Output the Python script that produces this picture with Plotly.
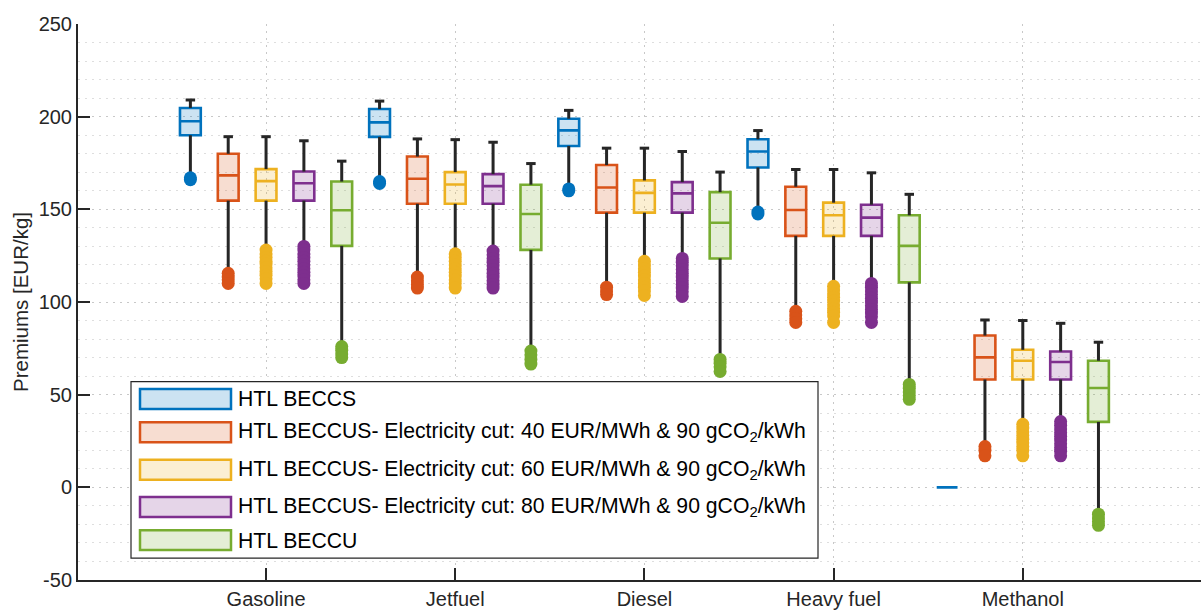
import plotly.graph_objects as go

# ---- data -----------------------------------------------------------------
categories = ["Gasoline", "Jetfuel", "Diesel", "Heavy fuel", "Methanol"]

series_names = [
    "HTL BECCS",
    "HTL BECCUS- Electricity cut: 40 EUR/MWh &amp; 90 gCO<sub>2</sub>/kWh",
    "HTL BECCUS- Electricity cut: 60 EUR/MWh &amp; 90 gCO<sub>2</sub>/kWh",
    "HTL BECCUS- Electricity cut: 80 EUR/MWh &amp; 90 gCO<sub>2</sub>/kWh",
    "HTL BECCU",
]

y_tick_values = [-50, 0, 50, 100, 150, 200, 250]
y_tick_labels = ["-50", "0", "50", "100", "150", "200", "250"]

# HTL BECCS
beccs_upper = [209.0, 208.4, 203.4, 192.5, 0.0]
beccs_q3 = [204.7, 204.1, 198.9, 187.8, 0.0]
beccs_median = [197.5, 196.9, 192.6, 181.2, 0.0]
beccs_q1 = [190.0, 189.1, 184.2, 172.6, 0.0]
beccs_lower = [167.0, 165.0, 161.0, 148.5, 0.0]
beccs_outliers = [[167.0, 166.0], [165.0, 164.0], [161.0, 160.0], [148.5, 147.5], []]

# HTL BECCUS, 40 EUR/MWh
beccus40_upper = [189.2, 188.0, 183.0, 171.5, 90.3]
beccus40_q3 = [180.0, 178.5, 173.9, 162.2, 81.9]
beccus40_median = [168.3, 166.5, 161.8, 149.6, 70.1]
beccus40_q1 = [154.7, 153.0, 148.2, 135.7, 58.2]
beccus40_lower = [115.5, 113.5, 108.0, 95.0, 22.0]
beccus40_outliers = [
    [115.5, 113.5, 112.0, 110.0],
    [113.5, 111.5, 109.5, 107.5],
    [108.0, 106.0, 104.0],
    [95.0, 93.0, 91.0, 89.0],
    [22.0, 20.0, 17.0],
]

# HTL BECCUS, 60 EUR/MWh
beccus60_upper = [189.2, 187.6, 183.0, 171.5, 90.0]
beccus60_q3 = [171.7, 170.1, 165.6, 153.6, 74.2]
beccus60_median = [165.2, 163.4, 158.9, 146.8, 68.3]
beccus60_q1 = [154.7, 153.0, 148.2, 135.7, 58.2]
beccus60_lower = [128.0, 126.0, 122.0, 108.5, 34.0]
beccus60_outliers = [
    [128.0, 126.0, 124.0, 122.0, 120.5, 118.5, 116.5, 114.5, 112.5, 110.0],
    [126.0, 124.0, 122.0, 120.0, 118.0, 116.0, 114.0, 112.0, 110.0, 107.5],
    [122.0, 120.0, 118.0, 116.0, 114.0, 112.0, 110.0, 108.0, 106.0, 103.5],
    [108.5, 106.5, 104.5, 102.5, 100.5, 98.5, 96.5, 94.5, 92.5, 89.0],
    [34.0, 32.0, 30.0, 28.0, 26.0, 24.0, 22.0, 20.0, 17.0],
]

# HTL BECCUS, 80 EUR/MWh
beccus80_upper = [187.0, 186.2, 181.2, 169.7, 88.5]
beccus80_q3 = [170.4, 169.0, 164.7, 152.5, 73.3]
beccus80_median = [164.1, 162.5, 158.6, 145.5, 67.6]
beccus80_q1 = [154.7, 153.0, 148.2, 135.7, 58.2]
beccus80_lower = [130.0, 127.5, 123.5, 110.0, 35.5]
beccus80_outliers = [
    [130.0, 128.0, 126.0, 124.0, 122.0, 120.0, 118.0, 116.0, 114.0, 112.0, 110.0],
    [127.5, 125.5, 123.5, 121.5, 119.5, 117.5, 115.5, 113.5, 111.5, 109.5, 107.5],
    [123.5, 121.5, 119.5, 117.5, 115.5, 113.5, 111.5, 109.5, 107.5, 105.5, 103.0],
    [110.0, 108.0, 106.0, 104.0, 102.0, 100.0, 98.0, 96.0, 94.0, 92.0, 89.0],
    [35.5, 33.5, 31.5, 29.5, 27.5, 25.5, 23.5, 21.5, 19.5, 17.0],
]

# HTL BECCU
beccu_upper = [176.0, 174.7, 170.1, 158.1, 78.3]
beccu_q3 = [165.0, 163.3, 159.3, 146.8, 68.3]
beccu_median = [149.5, 147.5, 142.8, 130.3, 53.6]
beccu_q1 = [130.3, 128.1, 123.5, 110.6, 35.3]
beccu_lower = [76.0, 73.5, 69.0, 55.5, -14.5]
beccu_outliers = [
    [76.0, 74.0, 72.0, 70.0],
    [73.5, 71.5, 69.0, 66.5],
    [69.0, 67.0, 65.0, 62.5],
    [55.5, 53.5, 51.5, 49.5, 47.5],
    [-14.5, -16.5, -18.5, -20.5],
]

# ---- styling ----------------------------------------------------------------
line_colors = ["#0072BD", "#D95319", "#EDB120", "#7E2F8E", "#77AC30"]
fill_colors = [
    "rgba(0,114,189,0.2)",
    "rgba(217,83,25,0.2)",
    "rgba(237,177,32,0.2)",
    "rgba(126,47,142,0.2)",
    "rgba(119,172,48,0.2)",
]
group_offsets = [-0.4, -0.2, 0.0, 0.2, 0.4]
box_width = 0.11
cap_half = 0.025
ink = "#262626"
font_family = "Liberation Sans, Arial, sans-serif"

stats = [
    (beccs_upper, beccs_q3, beccs_median, beccs_q1, beccs_lower, beccs_outliers),
    (beccus40_upper, beccus40_q3, beccus40_median, beccus40_q1, beccus40_lower, beccus40_outliers),
    (beccus60_upper, beccus60_q3, beccus60_median, beccus60_q1, beccus60_lower, beccus60_outliers),
    (beccus80_upper, beccus80_q3, beccus80_median, beccus80_q1, beccus80_lower, beccus80_outliers),
    (beccu_upper, beccu_q3, beccu_median, beccu_q1, beccu_lower, beccu_outliers),
]

fig = go.Figure()

for s, (upper, q3, med, q1, lower, outliers) in enumerate(stats):
    xs = [i + 1 + group_offsets[s] for i in range(len(categories))]

    # whiskers with caps (black)
    wx, wy = [], []
    for x, u, a, b, l in zip(xs, upper, q3, q1, lower):
        if u > a:
            wx += [x, x, None, x - cap_half, x + cap_half, None]
            wy += [a, u, None, u, u, None]
        if l < b:
            wx += [x, x, None, x - cap_half, x + cap_half, None]
            wy += [b, l, None, l, l, None]
    fig.add_trace(go.Scatter(
        x=wx, y=wy, mode="lines", line=dict(color=ink, width=3),
        showlegend=False, hoverinfo="skip",
    ))

    # the boxes (quartiles + median)
    fig.add_trace(go.Box(
        x=xs, q1=q1, median=med, q3=q3, lowerfence=q1, upperfence=q3,
        width=box_width, boxpoints=False,
        line=dict(color=line_colors[s], width=2.6),
        fillcolor=fill_colors[s], showlegend=False,
    ))

    # outliers
    ox, oy = [], []
    for x, vals in zip(xs, outliers):
        ox += [x] * len(vals)
        oy += vals
    fig.add_trace(go.Scatter(
        x=ox, y=oy, mode="markers",
        marker=dict(color=line_colors[s], size=13, line=dict(width=0)),
        showlegend=False, hoverinfo="skip",
    ))

# ---- legend drawn as shapes + text -------------------------------------------
W, H = 1201, 610
L, R, T, B = 78, 0, 24, 28
pw, ph = W - L - R, H - T - B


def px(xp):
    return (xp - L) / pw


def py(yp):
    return (H - B - yp) / ph


shapes = [dict(
    type="rect", xref="paper", yref="paper",
    x0=px(131), x1=px(818), y0=py(560), y1=py(383),
    line=dict(color=ink, width=1.2), fillcolor="white", layer="above",
)]
annotations = []
row_y = [400.3, 433.7, 471.3, 508.7, 542.0]
for s, name in enumerate(series_names):
    yc = row_y[s]
    shapes.append(dict(
        type="rect", xref="paper", yref="paper",
        x0=px(140), x1=px(231), y0=py(yc + 10), y1=py(yc - 10),
        line=dict(color=line_colors[s], width=2.5), fillcolor=fill_colors[s],
        layer="above",
    ))
    annotations.append(dict(
        xref="paper", yref="paper", x=px(236), y=py(yc),
        xanchor="left", yanchor="middle", text=name, showarrow=False,
        font=dict(family=font_family, size=21.2, color="black"),
    ))

fig.update_layout(
    width=W, height=H,
    margin=dict(l=L, r=R, t=T, b=B, pad=0),
    paper_bgcolor="white", plot_bgcolor="white",
    boxmode="overlay",
    showlegend=False,
    font=dict(family=font_family, size=20, color=ink),
    shapes=shapes, annotations=annotations,
)

fig.update_xaxes(
    range=[0.006, 5.942],
    tickmode="array", tickvals=[1, 2, 3, 4, 5], ticktext=categories,
    ticks="inside", ticklen=12, tickwidth=2, tickcolor=ink,
    showline=True, linecolor=ink, linewidth=2,
    showgrid=True, gridcolor="#c8c8c8", griddash="2px,5px", gridwidth=1,
    zeroline=False, tickfont=dict(size=20, color=ink),
)

fig.update_yaxes(
    range=[-50, 250],
    tickmode="array", tickvals=y_tick_values, ticktext=y_tick_labels,
    ticks="inside", ticklen=12, tickwidth=2, tickcolor=ink,
    showline=True, linecolor=ink, linewidth=2,
    showgrid=True, gridcolor="#c8c8c8", griddash="2px,5px", gridwidth=1,
    minor=dict(dtick=10, tick0=0, showgrid=True, gridcolor="#dedede",
               griddash="2px,5px", gridwidth=1, ticks=""),
    zeroline=False, tickfont=dict(size=20, color=ink),
    title=dict(text="Premiums [EUR/kg]", standoff=4,
               font=dict(size=20.5, color=ink)),
)

fig.write_html("out.html")
